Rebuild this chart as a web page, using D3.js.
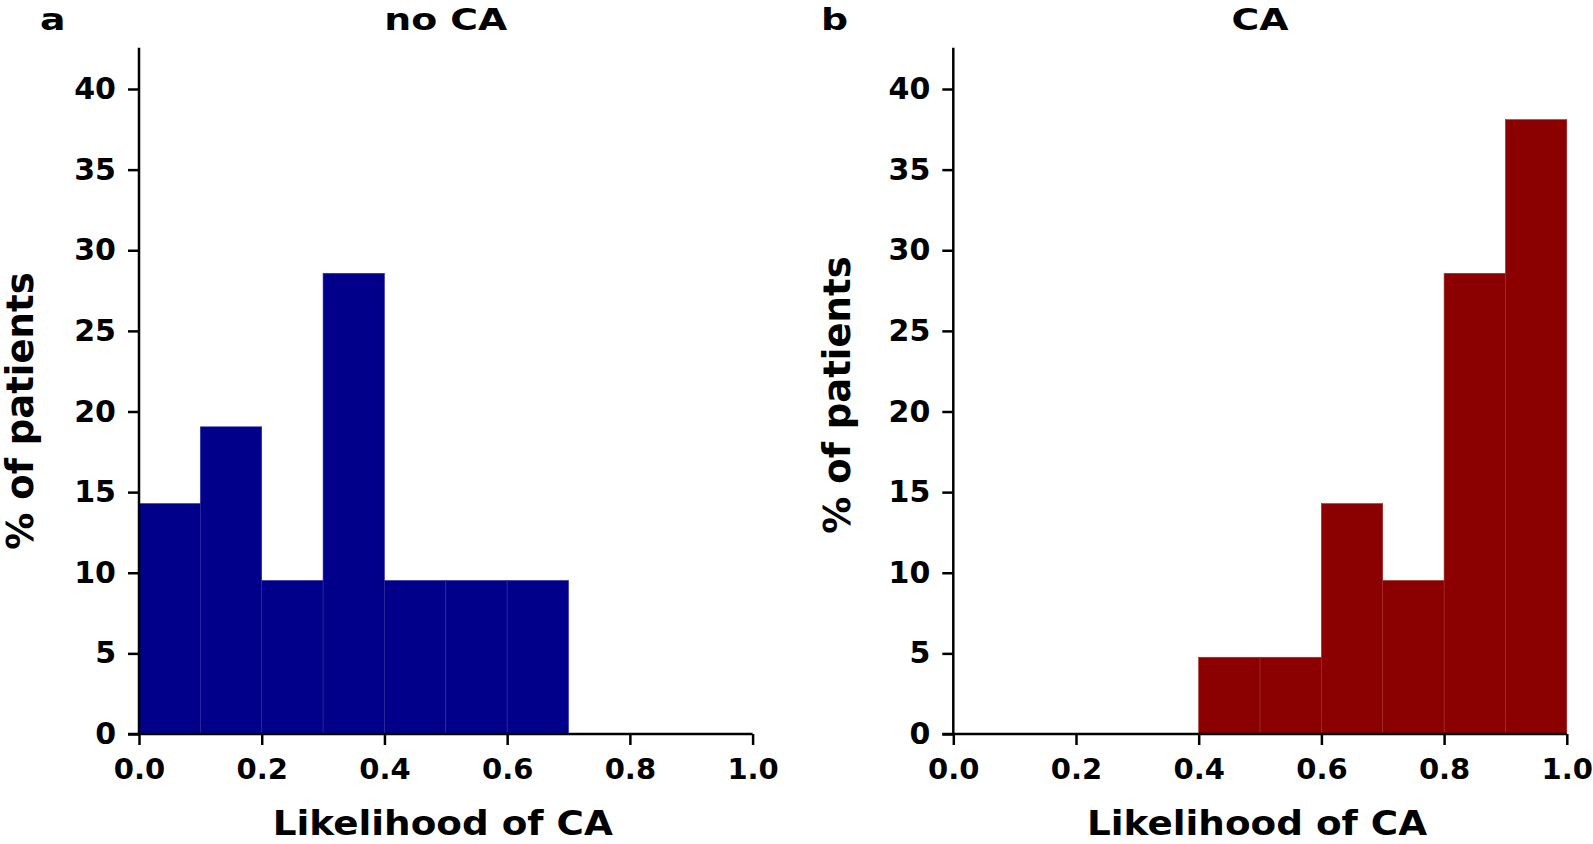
<!DOCTYPE html>
<html>
<head>
<meta charset="utf-8">
<script src="https://cdn.jsdelivr.net/npm/d3@7"></script>
<style>
  html, body { margin: 0; padding: 0; background: #fff; }
  svg text { font-family: "DejaVu Sans", sans-serif; font-weight: bold; fill: #000; }
</style>
</head>
<body>
<svg id="chart" width="1593" height="844"></svg>
<script>
// ---- data ----
const binEdges = [0.0, 0.1, 0.2, 0.3, 0.4, 0.5, 0.6, 0.7, 0.8, 0.9, 1.0];
const noCAValues = [14.29, 19.05, 9.52, 28.57, 9.52, 9.52, 9.52, 0, 0, 0];
const caValues = [0, 0, 0, 0, 4.76, 4.76, 14.29, 9.52, 28.57, 38.10];
const xTicks = [0.0, 0.2, 0.4, 0.6, 0.8, 1.0];
const yTicks = [0, 5, 10, 15, 20, 25, 30, 35, 40];
const panelTitles = ["no CA", "CA"];
const panelLetters = ["a", "b"];
const xLabel = "Likelihood of CA";
const yLabel = "% of patients";

const svg = d3.select("#chart");

const panels = [
  { values: noCAValues, color: "#00008b", seam: "#2a2aa0", x0: 139, x1: 752.6, letterX: 40, yLabelX: 33, yLabelY: 411, title: panelTitles[0], letter: panelLetters[0] },
  { values: caValues, color: "#8b0000", seam: "#a02a2a", x0: 953.3, x1: 1566.8, letterX: 821, yLabelX: 850, yLabelY: 395, title: panelTitles[1], letter: panelLetters[1] }
];

const yBottom = 734, yTop = 47.7;
const yMax = (yBottom - yTop) / ((yBottom - 89) / 40);

panels.forEach(p => {
  const x = d3.scaleLinear().domain([0, 1]).range([p.x0, p.x1]);
  const y = d3.scaleLinear().domain([0, yMax]).range([yBottom, yTop]);
  const g = svg.append("g");

  // bars
  const bins = p.values.map((v, i) => ({ lo: binEdges[i], hi: binEdges[i + 1], v }));
  g.selectAll("rect.bar").data(bins.filter(d => d.v > 0)).join("rect")
    .attr("class", "bar")
    .attr("x", d => x(d.lo))
    .attr("width", d => x(d.hi) - x(d.lo))
    .attr("y", d => y(d.v))
    .attr("height", d => y(0) - y(d.v))
    .attr("fill", p.color)
    .attr("stroke", p.seam)
    .attr("stroke-width", 0.6);

  // axes
  const xAxis = d3.axisBottom(x).tickValues(xTicks).tickFormat(d3.format(".1f")).tickSizeOuter(0).tickSize(11).tickPadding(13);
  const yAxis = d3.axisLeft(y).tickValues(yTicks).tickFormat(d3.format("d")).tickSizeOuter(0).tickSize(11).tickPadding(12);

  const gx = g.append("g").attr("transform", `translate(0,${yBottom})`).call(xAxis);
  const gy = g.append("g").attr("transform", `translate(${p.x0},0)`).call(yAxis);

  [gx, gy].forEach(a => {
    a.select(".domain").attr("stroke", "#000").attr("stroke-width", 2.5);
    a.selectAll(".tick line").attr("stroke", "#000").attr("stroke-width", 2.5);
    a.selectAll(".tick text").attr("font-family", "DejaVu Sans").attr("font-weight", "bold").attr("fill", "#000");
  });
  gx.selectAll(".tick text").attr("font-size", 29).attr("dy", "0.71em");
  gy.selectAll(".tick text").attr("font-size", 30);
  gy.select(".domain").attr("d", `M0,${yBottom}V${yTop}`);
  gx.select(".domain").attr("d", `M${p.x0 - 11},0H${p.x1}`);

  // title
  g.append("text")
    .attr("class", "stretch")
    .attr("x", (p.x0 + p.x1) / 2).attr("y", 30)
    .attr("text-anchor", "middle").attr("font-size", 31)
    .text(p.title);
  // panel letter
  g.append("text")
    .attr("class", "stretch")
    .attr("x", p.letterX).attr("y", 30)
    .attr("font-size", 31)
    .text(p.letter);
  // x label
  g.append("text")
    .attr("x", (p.x0 + p.x1) / 2 - 3).attr("y", 835)
    .attr("text-anchor", "middle").attr("font-size", 33)
    .attr("textLength", 340).attr("lengthAdjust", "spacingAndGlyphs")
    .text(xLabel);
  // y label
  g.append("text")
    .attr("transform", `translate(${p.yLabelX},${p.yLabelY}) rotate(-90)`)
    .attr("text-anchor", "middle").attr("font-size", 37)
    .text(yLabel);
});

// stretch titles horizontally to match reference proportions
svg.selectAll("text.stretch")
  .each(function () {
    const t = d3.select(this);
    const bx = +t.attr("x"), by = +t.attr("y");
    t.attr("transform", `translate(${bx},${by}) scale(1.22,1) translate(${-bx},${-by})`);
  });
</script>
</body>
</html>
